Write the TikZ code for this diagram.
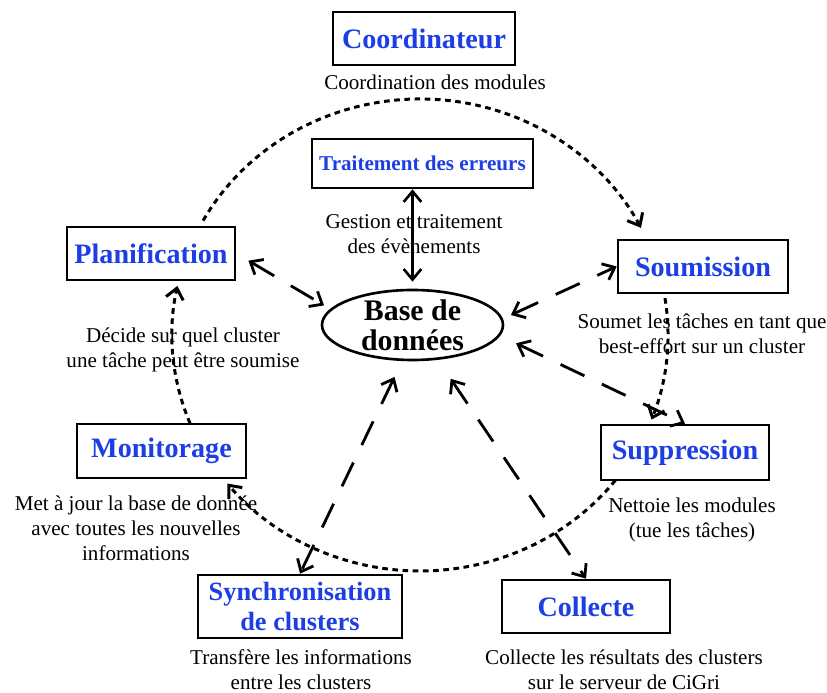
\documentclass[tikz,border=0pt]{standalone}
\usepackage{fontspec}
\setmainfont{Liberation Serif}
\usetikzlibrary{calc, arrows.meta, shapes.geometric, positioning}

\definecolor{titleblue}{RGB}{28,62,228}

\begin{document}
\begin{tikzpicture}[
  >={Straight Barb[length=6pt,width=10pt]},
  modbox/.style={draw, line width=1.5pt, fill=white, text=titleblue,
    font=\fontsize{16}{17}\selectfont\bfseries, align=center,
    minimum width=3.36cm, minimum height=1.06cm, inner sep=2pt},
  desc/.style={font=\fontsize{12}{14.2}\selectfont, align=center, inner sep=0pt},
  dbshape/.style={draw, ellipse, line width=1.5pt, minimum width=3.62cm,
    minimum height=1.4cm, inner sep=0pt},
  dashlink/.style={<->, line width=1.6pt, dash pattern=on 15pt off 11pt},
  ringlink/.style={->, line width=1.7pt, dash pattern=on 3.2pt off 2.6pt},
]
  \useasboundingbox (0,0) rectangle (16.54,13.86);

  % cycle of the modules
  \coordinate (ring) at (8.40,7.16);
  \foreach \a/\b in {151/27, 9/-21, -38/-141, 202/168} {
    \coordinate (ring\a) at ($(ring)+(\a:4.96 and 4.72)$);
    \draw[ringlink] (ring\a) arc[start angle=\a, end angle=\b, x radius=4.96, y radius=4.72];
  }

  % modules
  \node[modbox, minimum width=3.64cm] (coord) at (8.48,13.09) {Coordinateur};
  \node[modbox, minimum width=4.42cm, minimum height=0.98cm,
    font=\fontsize{12}{14}\selectfont\bfseries] (trait) at (8.45,10.59) {Traitement des erreurs};
  \node[modbox] (plan) at (3.02,8.79) {Planification};
  \node[modbox, minimum width=3.4cm] (soum) at (14.06,8.53) {Soumission};
  \node[modbox, minimum height=1.1cm] (supp) at (13.70,4.81) {Suppression};
  \node[modbox, minimum width=3.38cm, minimum height=1.08cm] (moni) at (3.23,4.84) {Monitorage};
  \node[modbox, minimum width=4.08cm, minimum height=1.26cm,
    font=\fontsize{15}{17}\selectfont\bfseries] (sync) at (6.00,1.73) {Synchronisation\\de clusters};
  \node[modbox] (coll) at (11.72,1.73) {Collecte};
  \node[dbshape] (db) at (8.25,7.36) {};
  \node[font=\fontsize{17}{17}\selectfont\bfseries, align=center] (dblabel) at (db) {Base de\\données};

  % descriptions
  \node[desc] (coordtxt) at (8.70,12.22) {Coordination des modules};
  \node[desc] (traittxt) at (8.28,9.17) {Gestion et traitement\\des évènements};
  \node[desc] (plantxt) at (3.66,6.86) {Décide sur quel cluster\\une tâche peut être soumise};
  \node[desc] (soumtxt) at (14.04,7.18) {Soumet les tâches en tant que\\best-effort sur un cluster};
  \node[desc] (supptxt) at (13.84,3.46) {Nettoie les modules\\(tue les tâches)};
  \node[desc] (monitxt) at (2.72,3.30) {Met à jour la base de donnée\\avec toutes les nouvelles\\informations};
  \node[desc] (synctxt) at (6.02,0.46) {Transfère les informations\\entre les clusters};
  \node[desc] (colltxt) at (12.48,0.46) {Collecte les résultats des clusters\\sur le serveur de CiGri};

  % links with the database
  \draw[<->, line width=1.5pt, shorten >=4pt] (db.north |- trait.south) -- (db.north);
  \draw[dashlink, shorten <=8pt, shorten >=4pt] (plan.east) -- (db.169);
  \draw[dashlink, shorten <=5pt] (db.4) -- (soum.west);
  \draw[dashlink, shorten <=10pt] (db.-7) -- (supp.north);
  \draw[dashlink, shorten <=10pt] (db.254) -- (sync.north);
  \draw[dashlink, shorten <=13pt] (db.-54) -- (coll.north);
\end{tikzpicture}
\end{document}
